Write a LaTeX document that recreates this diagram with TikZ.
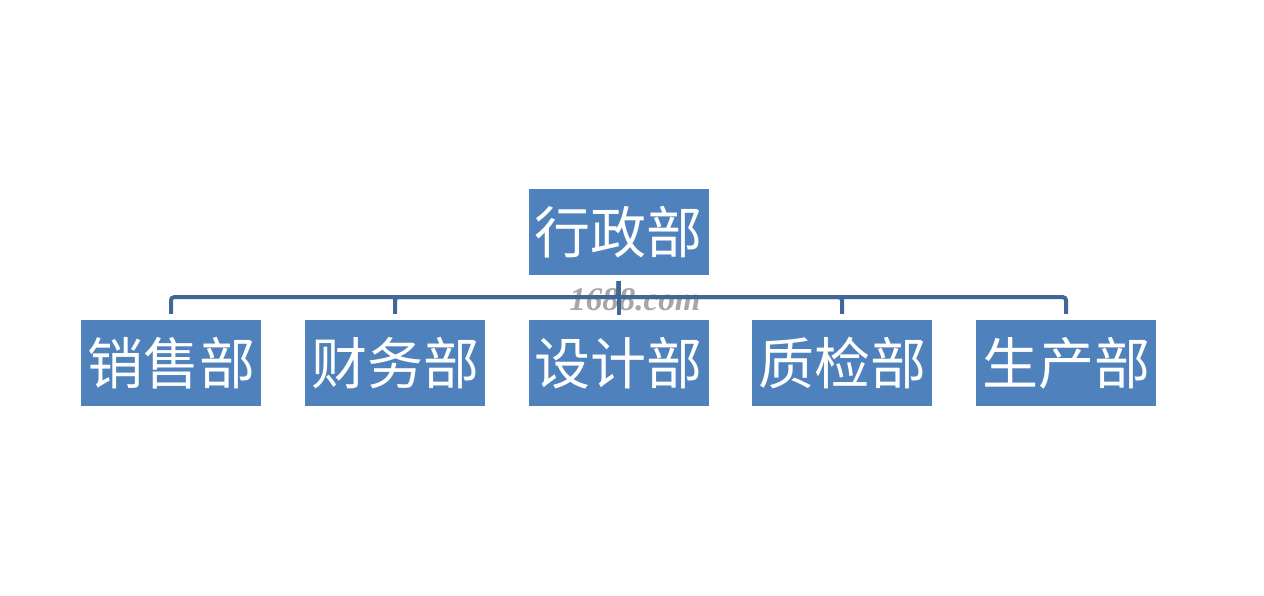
\documentclass[tikz,border=0pt]{standalone}
\usepackage{fontspec}
\newfontfamily\cjk{Noto Sans CJK SC}
\setmainfont{Liberation Serif}
\definecolor{boxblue}{HTML}{4F81BD}
\definecolor{lineblue}{HTML}{3F6898}
\begin{document}
\begin{tikzpicture}[x=1pt,y=1pt,
  dept/.style={fill=boxblue, draw=none, minimum width=180pt, minimum height=86pt, inner sep=0pt,
    text=white, font=\cjk\fontsize{56}{56}\selectfont},
  conn/.style={draw=lineblue, line width=4pt, rounded corners=3pt}]
\useasboundingbox (0,0) rectangle (1264,-596);
\fill[white] (0,0) rectangle (1264,-596);
\node[dept] (top) at (618.5,-232) {行政部};
\node[dept] (a) at (171,-363) {销售部};
\node[dept] (b) at (395,-363) {财务部};
\node[dept] (c) at (618.5,-363) {设计部};
\node[dept] (d) at (842,-363) {质检部};
\node[dept] (e) at (1066,-363) {生产部};
\node[text=gray!70, font=\bfseries\itshape\fontsize{33}{33}\selectfont] (wm) at (635,-300) {1688.com};
\foreach \t in {a,b,d,e}{
  \draw[conn] ([yshift=-6pt]top.south) -- ++(0,-16) -| ([yshift=6pt]\t.north);
}
\draw[conn] ([yshift=-6pt]top.south) -- ([yshift=5pt]c.north);
\end{tikzpicture}
\end{document}
